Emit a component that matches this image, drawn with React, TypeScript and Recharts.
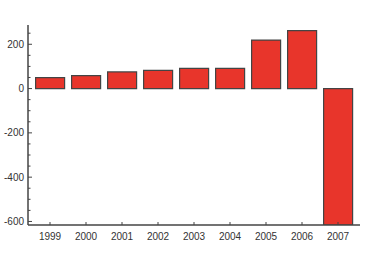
import React from 'react';
import { BarChart, Bar, XAxis, YAxis } from 'recharts';

const years = ['1999', '2000', '2001', '2002', '2003', '2004', '2005', '2006', '2007'];
const values = [49, 58, 75, 82, 91, 91, 219, 262, -616];
const yTicks = [-600, -550, -500, -450, -400, -350, -300, -250, -200, -150, -100, -50, 0, 50, 100, 150, 200, 250];
const yLabels = [-600, -400, -200, 0, 200];

const data = years.map((year, i) => ({ year, value: values[i] }));

const YTick = (props: any) => {
  const { x, y, payload } = props;
  const v = payload.value as number;
  const major = yLabels.includes(v);
  return (
    <g>
      <line x1={x} x2={x + (major ? 4 : 2.5)} y1={y} y2={y} stroke="#444" strokeWidth={1} />
      {major && (
        <text x={x - 4} y={y} dy={3.5} textAnchor="end" fontSize={10} fill="#333" fontFamily="Liberation Sans, Arial, sans-serif">
          {v}
        </text>
      )}
    </g>
  );
};

const XTick = (props: any) => {
  const { x, y, payload } = props;
  return (
    <g>
      <line x1={x} x2={x} y1={y} y2={y - 3} stroke="#444" strokeWidth={1} />
      <text x={x} y={y + 15} textAnchor="middle" fontSize={10} fill="#333" fontFamily="Liberation Sans, Arial, sans-serif">
        {payload.value}
      </text>
    </g>
  );
};

export default function App() {
  return (
    <div style={{ position: 'absolute', left: 0, top: 0, width: 375, height: 269, background: '#fff' }}>
      <BarChart
        width={375}
        height={269}
        data={data}
        margin={{ top: 25, right: 15, bottom: 24, left: 0 }}
        barCategoryGap="10%"
      >
        <XAxis
          dataKey="year"
          padding={{ left: 4, right: 4 }}
          tickSize={0}
          tickMargin={0}
          tick={<XTick />}
          interval={0}
          height={20}
          axisLine={{ stroke: '#444', strokeWidth: 1.5 }}
          tickLine={false}
        />
        <YAxis
          domain={[-616, 287]}
          ticks={yTicks}
          allowDataOverflow
          width={28}
          tickSize={0}
          tickMargin={0}
          tick={<YTick />}
          interval={0}
          axisLine={{ stroke: '#444', strokeWidth: 1.5 }}
          tickLine={false}
        />
        <Bar dataKey="value" fill="#e8352b" stroke="#444" strokeWidth={1.2} isAnimationActive={false} />
      </BarChart>
    </div>
  );
}
